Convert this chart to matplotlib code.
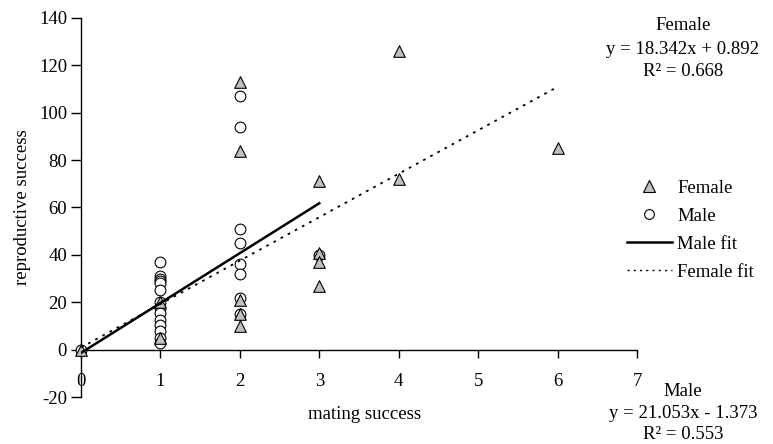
import matplotlib
matplotlib.use("Agg")
import numpy as np
from matplotlib import pyplot as plt
from matplotlib.lines import Line2D

plt.rcParams["font.family"] = ["Liberation Serif", "DejaVu Serif"]
plt.rcParams["axes.unicode_minus"] = False

# Data
female_x = [0, 1, 1, 2, 2, 2, 2, 2, 3, 3, 3, 3, 4, 4, 6]
female_y = [0, 20, 5, 113, 84, 21, 15, 10, 71, 41, 37, 27, 126, 72, 85]

male_x = [0] + [1] * 14 + [2] * 8 + [3]
male_y = [0,
          37, 31, 30, 29, 28, 25, 20, 17.5, 15.5, 12.5, 10.5, 8, 5, 3,
          107, 94, 51, 45, 36, 32, 22, 15,
          40]

# Fitted trend lines (slope, intercept, r2) as printed on the chart
male_fit = (21.053, -1.373, 0.553)
female_fit = (18.342, 0.892, 0.668)

x_ticks = [0, 1, 2, 3, 4, 5, 6, 7]
y_ticks = [-20, 0, 20, 40, 60, 80, 100, 120, 140]

FS = 13.5

fig = plt.figure(figsize=(7.73, 4.44), dpi=100)
ax = fig.add_axes([81 / 773, 1 - 397 / 444, (637 - 81) / 773, (397 - 18) / 444])

# Scatter points (triangles sit on top of circles)
ax.scatter(male_x, male_y, marker="o", s=60, facecolor="white",
           edgecolor="black", linewidth=0.8, zorder=3, clip_on=False)
ax.scatter(female_x, female_y, marker="^", s=70, facecolor="#c0c0c0",
           edgecolor="black", linewidth=0.8, zorder=4, clip_on=False)

# Fit lines
mx = np.array([0, max(male_x)])
fx = np.array([0, max(female_x)])
ax.plot(mx, male_fit[0] * mx + male_fit[1], color="black", lw=1.8, zorder=5)
ax.plot(fx, female_fit[0] * fx + female_fit[1], color="black", lw=1.3,
        linestyle=(0, (1.5, 3)), zorder=5)

ax.set_xlim(0, 7)
ax.set_ylim(-20, 140)
ax.set_xticks(x_ticks)
ax.set_yticks(y_ticks)

# Excel-like axes: x axis crosses at y = 0
ax.spines["top"].set_visible(False)
ax.spines["right"].set_visible(False)
ax.spines["bottom"].set_position(("data", 0))
for s in ("left", "bottom"):
    ax.spines[s].set_linewidth(1.0)
ax.tick_params(axis="x", direction="out", length=6, width=1, pad=11, labelsize=FS)
ax.tick_params(axis="y", direction="out", length=7, width=1, pad=3, labelsize=FS)

ax.set_xlabel("mating success", fontsize=FS)
ax.xaxis.set_label_coords(0.51, -0.025)
ax.set_ylabel("reproductive success", fontsize=FS, labelpad=6)

# Legend
handles = [
    Line2D([], [], marker="^", linestyle="none", markersize=8,
           markerfacecolor="#c0c0c0", markeredgecolor="black", markeredgewidth=0.8),
    Line2D([], [], marker="o", linestyle="none", markersize=7,
           markerfacecolor="white", markeredgecolor="black", markeredgewidth=0.8),
    Line2D([], [], color="black", lw=1.8),
    Line2D([], [], color="black", lw=1.0, linestyle=(0, (1.5, 3))),
]
labels = ["Female", "Male", "Male fit", "Female fit"]
fig.legend(handles, labels, loc="upper left", bbox_to_anchor=(619 / 773, 1 - 172 / 444),
           frameon=False, fontsize=FS, handlelength=2.4, handletextpad=0.3,
           labelspacing=0.58, borderaxespad=0)

# Equation annotations, one text per line
female_lines = ["Female",
                "y = %.3fx + %.3f" % (female_fit[0], female_fit[1]),
                "R² = %.3f" % female_fit[2]]
male_lines = ["Male",
              "y = %.3fx - %.3f" % (male_fit[0], -male_fit[1]),
              "R² = %.3f" % male_fit[2]]
for txt, ypx in zip(female_lines, [26, 49, 71]):
    fig.text(683 / 773, 1 - ypx / 444, txt, ha="center", va="center", fontsize=FS)
for txt, ypx in zip(male_lines, [391, 413, 434]):
    fig.text(683 / 773, 1 - ypx / 444, txt, ha="center", va="center", fontsize=FS)

fig.savefig("out.png", dpi=100)
